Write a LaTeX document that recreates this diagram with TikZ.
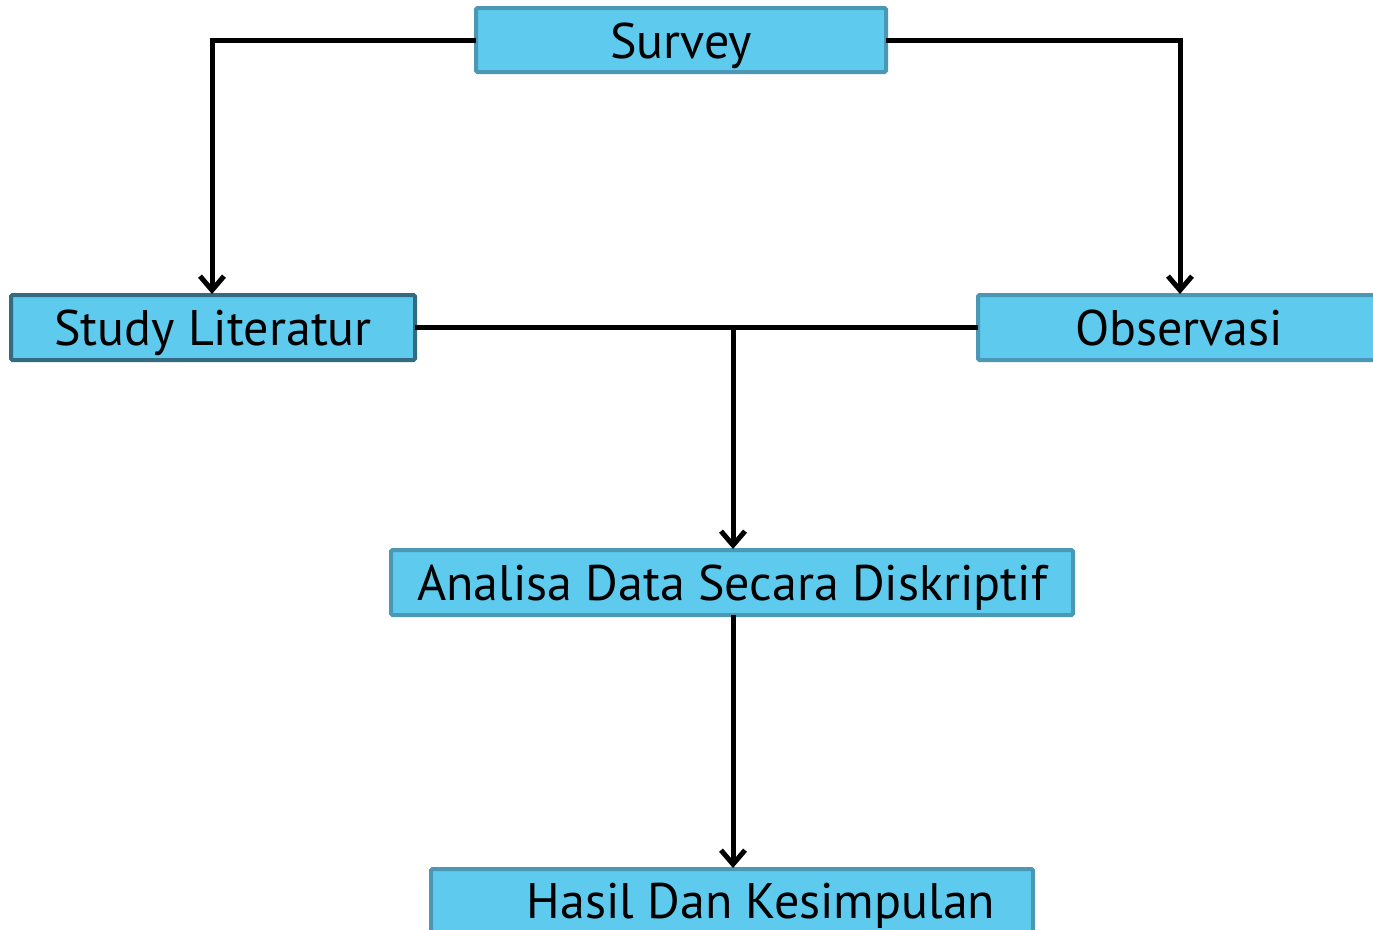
\documentclass[tikz,border=0pt]{standalone}
\usepackage{fontspec}
\setmainfont{PT Sans}
\usetikzlibrary{arrows.meta}
\definecolor{boxfill}{HTML}{5ECBEE}
\definecolor{boxdraw}{HTML}{4A98B5}
\definecolor{boxdark}{HTML}{336B80}
\begin{document}
\begin{tikzpicture}[x=1pt,y=-1pt,
  box/.style={draw=boxdraw, fill=boxfill, line width=4pt, rounded corners=1.5pt},
  lbl/.style={font=\fontsize{50}{54}\selectfont, inner sep=0pt, anchor=base},
  conn/.style={line width=5pt, draw=black},
  arr/.style={conn, -{Straight Barb[length=14pt,width=24pt,line width=5pt]}}]
\useasboundingbox (0,0) rectangle (1373,929);
\clip (0,0) rectangle (1373,929);
% boxes
\draw[box] (476,8) rectangle (886,72);
\node[lbl] (svt) at (681,58) {Survey};
\draw[box, draw=boxdark] (11,295) rectangle (415,360);
\node[lbl] (slt) at (213,345) {Study Literatur};
\draw[box] (978,295) rectangle (1390,360);
\node[lbl] (obt) at (1179,345) {Observasi};
\draw[box] (391,550) rectangle (1073,615);
\node[lbl] (ant) at (732,600) {Analisa Data Secara Diskriptif};
\draw[box] (431,869) rectangle (1033,960);
\node[lbl] (hst) at (761,918) {Hasil Dan Kesimpulan};
% connection points
\coordinate (svL) at (476,40);
\coordinate (svR) at (886,40);
\coordinate (slT) at (212,294);
\coordinate (obT) at (1180,294);
\coordinate (slR) at (415,327);
\coordinate (obL) at (978,327);
\coordinate (mid) at (733,327);
\coordinate (anT) at (733,549);
\coordinate (anB) at (733,615);
\coordinate (hsT) at (733,868);
% connectors
\draw[arr] (svL) -| (slT);
\draw[arr] (svR) -| (obT);
\draw[conn] (slR) -- (obL);
\draw[arr] (mid) -- (anT);
\draw[arr] (anB) -- (hsT);
\end{tikzpicture}
\end{document}
